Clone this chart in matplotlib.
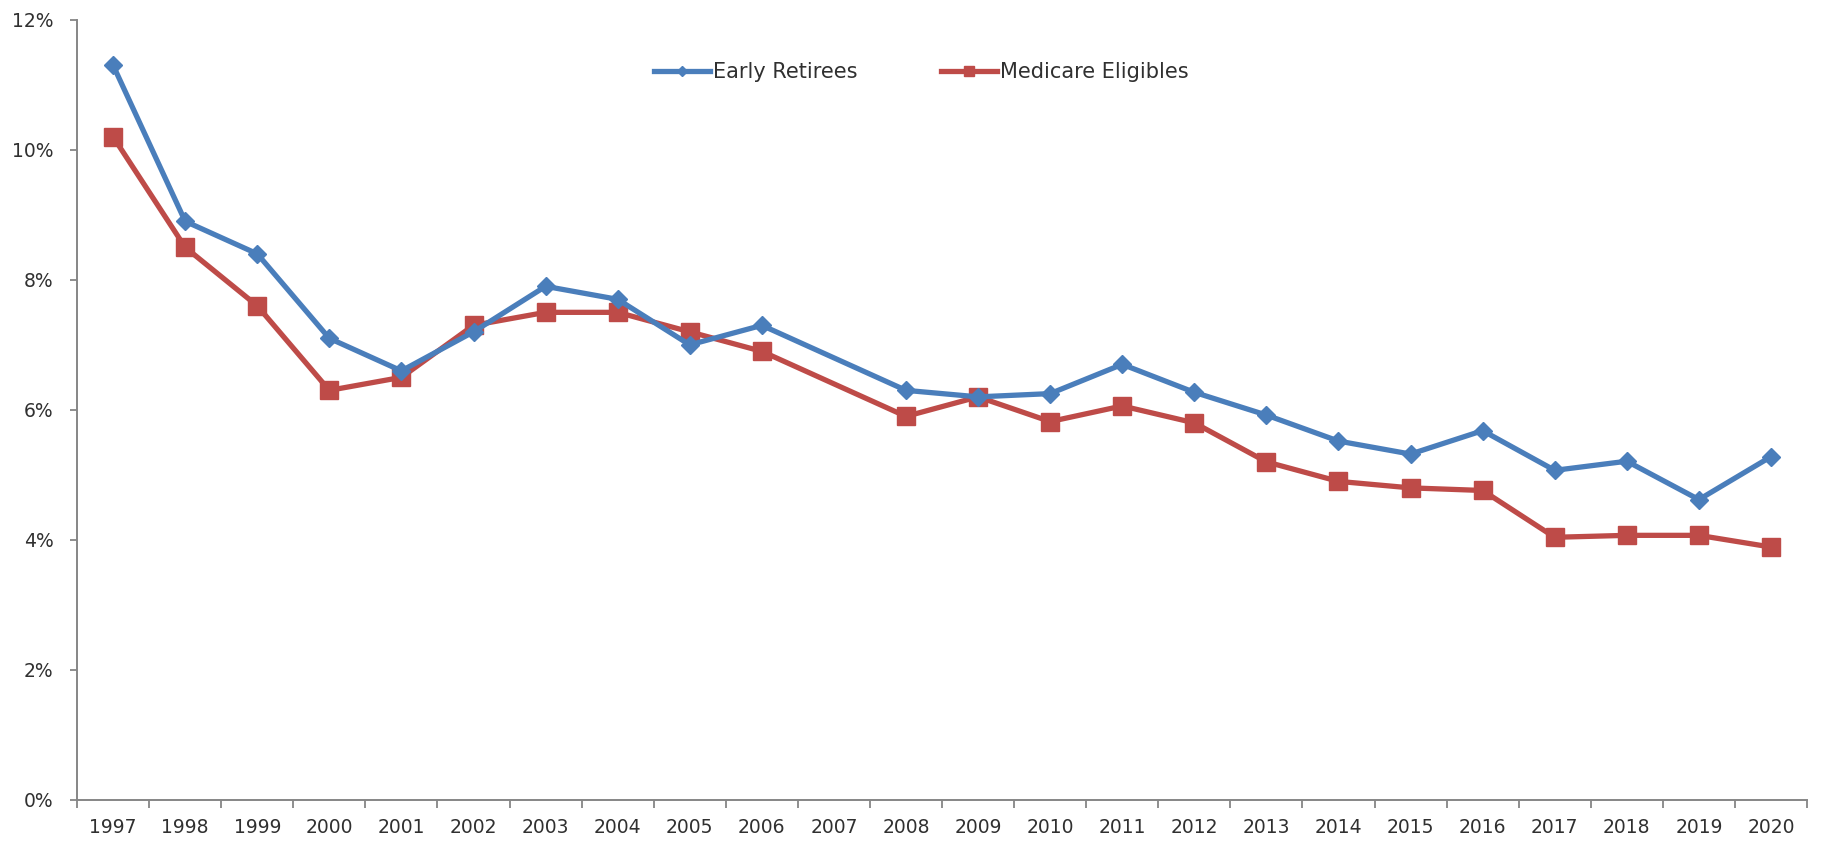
import numpy as np
import matplotlib
matplotlib.use("Agg")
import matplotlib.pyplot as plt
from matplotlib.ticker import FuncFormatter, MultipleLocator, FixedLocator

years = [str(y) for y in range(1997, 2021)]
early_retirees = [11.3, 8.9, 8.4, 7.1, 6.6, 7.2, 7.9, 7.7, 7.0, 7.3, None,
                  6.3, 6.2, 6.25, 6.7, 6.27, 5.92, 5.52, 5.32, 5.68, 5.07,
                  5.21, 4.62, 5.28]
medicare_eligibles = [10.2, 8.5, 7.6, 6.3, 6.5, 7.3, 7.5, 7.5, 7.2, 6.9, None,
                      5.9, 6.2, 5.82, 6.06, 5.8, 5.2, 4.9, 4.8, 4.76, 4.04,
                      4.07, 4.07, 3.89]

plt.rcParams["font.family"] = ["DejaVu Sans"]

fig = plt.figure(figsize=(18.26, 8.41), dpi=100)
ax = fig.add_axes([0.0422, 0.0488, 0.9474, 0.9277])

x = np.arange(len(years))


def valid(vals):
    # 2007 has no value: skip it so the line runs straight from 2006 to 2008
    xs = [i for i, v in zip(x, vals) if v is not None]
    ys = [v for v in vals if v is not None]
    return xs, ys


xe, ye = valid(early_retirees)
xm, ym = valid(medicare_eligibles)

ax.plot(xe, ye, color="#4A7EBB", lw=3.8, marker="D", markersize=9.5,
        label="Early Retirees", zorder=3)
ax.plot(xm, ym, color="#BE4B48", lw=3.8, marker="s", markersize=13,
        label="Medicare Eligibles", zorder=2)

ax.set_xlim(-0.5, len(years) - 0.5)
ax.set_ylim(0, 12)

ax.yaxis.set_major_locator(MultipleLocator(2))
ax.yaxis.set_major_formatter(FuncFormatter(lambda v, p: f"{v:.0f}%"))

ax.set_xticks(x)
ax.set_xticklabels(years)
ax.xaxis.set_minor_locator(FixedLocator(np.arange(-0.5, len(years), 1.0)))

axis_color = "#868686"
text_color = "#303030"
for side in ("top", "right"):
    ax.spines[side].set_visible(False)
for side in ("left", "bottom"):
    ax.spines[side].set_color(axis_color)
    ax.spines[side].set_linewidth(1.4)

ax.tick_params(axis="x", which="major", length=0, pad=13, labelsize=13.5,
               labelcolor=text_color)
ax.tick_params(axis="x", which="minor", length=6, width=1.3, color=axis_color,
               direction="out")
ax.tick_params(axis="y", which="major", length=5, width=1.3, color=axis_color,
               direction="out", pad=12, labelsize=13.5, labelcolor=text_color)

leg = ax.legend(loc="center", bbox_to_anchor=(0.488, 0.933), ncol=2,
                frameon=False, fontsize=15, handlelength=2.7,
                handletextpad=0.15, columnspacing=4.0, markerscale=0.55)
for t in leg.get_texts():
    t.set_color(text_color)

fig.savefig("out.png", dpi=100, facecolor="white")
